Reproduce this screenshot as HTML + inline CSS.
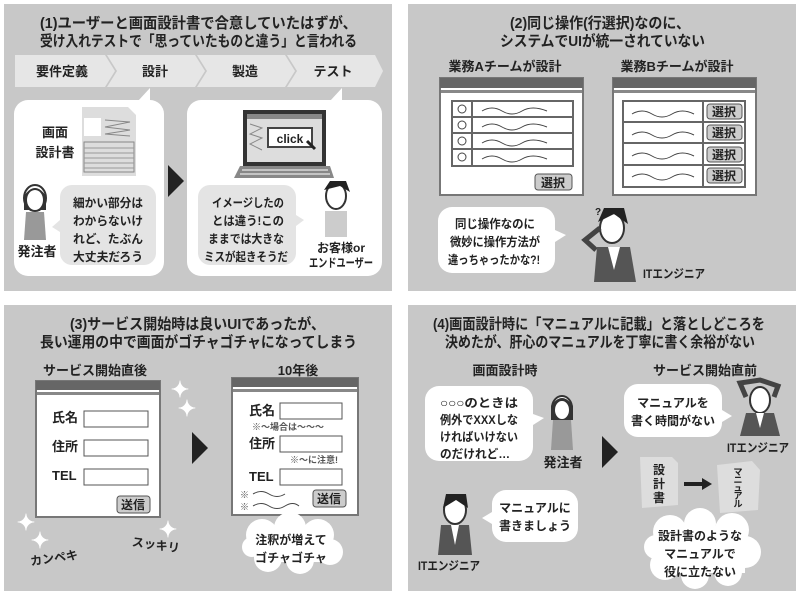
<!DOCTYPE html>
<html><head><meta charset="utf-8"><style>
html,body{margin:0;padding:0;background:#fff;}
svg{display:block;}
text{font-family:"Liberation Sans","Noto Sans CJK JP",sans-serif;font-weight:bold;fill:#222;}
</style></head><body>
<svg width="800" height="597" viewBox="0 0 800 597" xmlns="http://www.w3.org/2000/svg">
<defs>
<g id="tri"><polygon points="0,0 16,16 0,32" fill="#222"/></g>
</defs>
<rect x="4" y="4" width="388" height="287" fill="#c8c8c8"/>
<rect x="408" y="4" width="388" height="287" fill="#c8c8c8"/>
<rect x="4" y="305" width="388" height="286" fill="#c8c8c8"/>
<rect x="408" y="305" width="388" height="286" fill="#c8c8c8"/>

<!-- ===== Q1 ===== -->
<text x="40" y="28" font-size="15" textLength="317" lengthAdjust="spacingAndGlyphs">(1)ユーザーと画面設計書で合意していたはずが、</text>
<text x="40" y="46" font-size="15" textLength="317" lengthAdjust="spacingAndGlyphs">受け入れテストで「思っていたものと違う」と言われる</text>
<polygon points="15,55 105,55 115,71 105,87 15,87" fill="#e6e6e6"/>
<polygon points="107,55 195,55 205,71 195,87 107,87 117,71" fill="#e6e6e6"/>
<polygon points="197,55 285,55 295,71 285,87 197,87 207,71" fill="#e6e6e6"/>
<polygon points="287,55 375,55 383,71 375,87 287,87 297,71" fill="#e6e6e6"/>
<text x="62" y="76" font-size="13" text-anchor="middle">要件定義</text>
<text x="155" y="76" font-size="13" text-anchor="middle">設計</text>
<text x="245" y="76" font-size="13" text-anchor="middle">製造</text>
<text x="333" y="76" font-size="13" text-anchor="middle">テスト</text>
<rect x="14" y="100" width="150" height="176" rx="14" fill="#fff"/>
<polygon points="138,101 150,88 150,101" fill="#fff"/>
<rect x="187" y="100" width="195" height="176" rx="14" fill="#fff"/>
<polygon points="330,101 342,88 342,101" fill="#fff"/>
<use href="#tri" x="168" y="165"/>
<polygon points="82,107 128,107 136,115 136,176 82,176" fill="#ddd"/>
<rect x="84" y="118" width="17" height="18" fill="#fff"/>
<rect x="84" y="142" width="50" height="30" fill="none" stroke="#888"/>
<path d="M105,120 L130,122 L105,127 L130,130 L105,134 L130,136" stroke="#888" fill="none"/>
<path d="M84,148H134M84,153H134M84,158H134M84,163H134M84,168H134" stroke="#999"/>
<text x="55" y="137" font-size="13" text-anchor="middle">画面</text>
<text x="55" y="157" font-size="13" text-anchor="middle">設計書</text>
<ellipse cx="35" cy="198" rx="11" ry="13" fill="#fff" stroke="#333" stroke-width="2"/>
<path d="M24,196 Q35,180 46,196 L46,210 L24,210Z" fill="#333"/>
<ellipse cx="35" cy="200" rx="8" ry="10" fill="#fff"/>
<path d="M26,212 L44,212 L46,240 L24,240Z" fill="#999"/>
<text x="37" y="256" font-size="13" text-anchor="middle">発注者</text>
<rect x="60" y="185" width="96" height="80" rx="12" fill="#e4e4e4"/>
<polygon points="60,220 52,227 60,232" fill="#e4e4e4"/>
<g font-size="12"><text x="73" y="207" textLength="70" lengthAdjust="spacingAndGlyphs">細かい部分は</text><text x="73" y="225" textLength="70" lengthAdjust="spacingAndGlyphs">わからないけ</text><text x="73" y="243" textLength="70" lengthAdjust="spacingAndGlyphs">れど、たぶん</text><text x="73" y="261" textLength="70" lengthAdjust="spacingAndGlyphs">大丈夫だろう</text></g>
<rect x="243" y="110" width="83" height="56" fill="#333"/>
<rect x="247" y="114" width="75" height="48" fill="#ddd"/>
<rect x="247" y="114" width="75" height="5" fill="#888"/>
<rect x="268" y="128" width="44" height="19" fill="#fff" stroke="#444" stroke-width="2"/>
<text x="290" y="143" font-size="12" text-anchor="middle">click</text>
<path d="M307,141 L315,149" stroke="#222" stroke-width="3"/>
<path d="M250,124 L262,128 L250,134 L262,138 L250,144 L262,150" stroke="#888" fill="none"/>
<polygon points="240,166 330,166 334,178 234,178" fill="#888"/>
<path d="M242,170H328M240,174H330" stroke="#fff"/>
<rect x="198" y="185" width="98" height="80" rx="12" fill="#e4e4e4"/>
<polygon points="296,215 304,220 296,226" fill="#e4e4e4"/>
<g font-size="12"><text x="212" y="207" textLength="72" lengthAdjust="spacingAndGlyphs">イメージしたの</text><text x="212" y="225" textLength="72" lengthAdjust="spacingAndGlyphs">とは違う!この</text><text x="208" y="243" textLength="76" lengthAdjust="spacingAndGlyphs">ままでは大きな</text><text x="204" y="261" textLength="84" lengthAdjust="spacingAndGlyphs">ミスが起きそうだ</text></g>
<ellipse cx="336" cy="196" rx="10" ry="13" fill="#fff" stroke="#333" stroke-width="2"/>
<path d="M324,190 L330,181 L346,181 L350,192 L340,186Z" fill="#222"/>
<rect x="325" y="211" width="22" height="26" fill="#ccc"/>
<text x="341" y="252" font-size="12" text-anchor="middle">お客様or</text>
<text x="341" y="267" font-size="12" text-anchor="middle" textLength="64" lengthAdjust="spacingAndGlyphs">エンドユーザー</text>

<!-- ===== Q2 ===== -->
<text x="510" y="28" font-size="15" textLength="180" lengthAdjust="spacingAndGlyphs">(2)同じ操作(行選択)なのに、</text>
<text x="500" y="46" font-size="15" textLength="205" lengthAdjust="spacingAndGlyphs">システムでUIが統一されていない</text>
<text x="505" y="71" font-size="13" text-anchor="middle">業務Aチームが設計</text>
<text x="677" y="71" font-size="13" text-anchor="middle">業務Bチームが設計</text>
<g>
<rect x="440" y="78" width="143" height="117" fill="#fff" stroke="#777" stroke-width="2"/>
<rect x="440" y="78" width="143" height="10" fill="#666"/>
<rect x="441" y="90" width="141" height="3" fill="#888"/>
<rect x="452" y="101" width="121" height="65" fill="#fff" stroke="#666" stroke-width="2"/>
<path d="M452,117H573M452,133H573M452,149H573M472,101V166" stroke="#666" stroke-width="2"/>
<circle cx="462" cy="109" r="4" fill="none" stroke="#444"/><circle cx="462" cy="125" r="4" fill="none" stroke="#444"/><circle cx="462" cy="141" r="4" fill="none" stroke="#444"/><circle cx="462" cy="157" r="4" fill="none" stroke="#444"/>
<path d="M482,111 q10,-6 20,0 t20,0 t25,0 M482,127 q10,-6 20,0 t20,0 t25,0 M482,143 q10,-6 20,0 t20,0 t25,0 M482,159 q10,-6 20,0 t20,0 t25,0" stroke="#444" fill="none"/>
<rect x="535" y="174" width="37" height="16" rx="3" fill="#ccc" stroke="#555"/>
<text x="553" y="187" font-size="12" text-anchor="middle">選択</text>
</g>
<g>
<rect x="613" y="78" width="143" height="117" fill="#fff" stroke="#777" stroke-width="2"/>
<rect x="613" y="78" width="143" height="10" fill="#666"/>
<rect x="614" y="90" width="141" height="3" fill="#888"/>
<rect x="623" y="101" width="122" height="86" fill="#fff" stroke="#666" stroke-width="2"/>
<path d="M623,122H745M623,143H745M623,165H745M703,101V187" stroke="#666" stroke-width="2"/>
<path d="M632,114 q10,-6 20,0 t20,0 t22,0 M632,135 q10,-6 20,0 t20,0 t22,0 M632,156 q10,-6 20,0 t20,0 t22,0 M632,177 q10,-6 20,0 t20,0 t22,0" stroke="#444" fill="none"/>
<g font-size="12" text-anchor="middle">
<rect x="707" y="104" width="35" height="15" rx="3" fill="#ccc" stroke="#555"/><text x="724" y="116">選択</text>
<rect x="707" y="125" width="35" height="15" rx="3" fill="#ccc" stroke="#555"/><text x="724" y="137">選択</text>
<rect x="707" y="147" width="35" height="15" rx="3" fill="#ccc" stroke="#555"/><text x="724" y="159">選択</text>
<rect x="707" y="168" width="35" height="15" rx="3" fill="#ccc" stroke="#555"/><text x="724" y="180">選択</text>
</g></g>
<rect x="438" y="207" width="117" height="66" rx="14" fill="#fff"/>
<polygon points="555,230 566,235 555,242" fill="#fff"/>
<g font-size="12"><text x="455" y="228" textLength="80" lengthAdjust="spacingAndGlyphs">同じ操作なのに</text><text x="450" y="246" textLength="90" lengthAdjust="spacingAndGlyphs">微妙に操作方法が</text><text x="448" y="264" textLength="92" lengthAdjust="spacingAndGlyphs">違っちゃったかな?!</text></g>
<ellipse cx="612" cy="228" rx="12" ry="15" fill="#fff" stroke="#333" stroke-width="2"/>
<path d="M598,222 L604,208 L624,208 L628,224 L614,214Z" fill="#222"/>
<path d="M600,228 L585,240 L596,250" stroke="#444" stroke-width="5" fill="none"/>
<path d="M597,247 L630,247 L636,282 L594,282Z" fill="#555"/>
<polygon points="608,247 620,247 614,270" fill="#fff"/>
<text x="595" y="215" font-size="10">?</text>
<text x="643" y="278" font-size="12" textLength="62" lengthAdjust="spacingAndGlyphs">ITエンジニア</text>

<!-- ===== Q3 ===== -->
<text x="70" y="329" font-size="15" textLength="255" lengthAdjust="spacingAndGlyphs">(3)サービス開始時は良いUIであったが、</text>
<text x="40" y="347" font-size="15" textLength="317" lengthAdjust="spacingAndGlyphs">長い運用の中で画面がゴチャゴチャになってしまう</text>
<text x="95" y="375" font-size="13" text-anchor="middle">サービス開始直後</text>
<text x="298" y="375" font-size="13" text-anchor="middle">10年後</text>
<rect x="36" y="381" width="124" height="136" fill="#fff" stroke="#777" stroke-width="2"/>
<rect x="36" y="381" width="124" height="9" fill="#666"/>
<rect x="37" y="392" width="122" height="3" fill="#888"/>
<g font-size="13"><text x="52" y="422">氏名</text><text x="52" y="451">住所</text><text x="52" y="480">TEL</text></g>
<rect x="84" y="411" width="64" height="16" fill="#fff" stroke="#555"/>
<rect x="84" y="440" width="64" height="16" fill="#fff" stroke="#555"/>
<rect x="84" y="469" width="64" height="16" fill="#fff" stroke="#555"/>
<rect x="117" y="496" width="33" height="17" rx="3" fill="#ccc" stroke="#555"/>
<text x="133" y="509" font-size="12" text-anchor="middle">送信</text>
<g font-size="22" text-anchor="middle"><text x="180" y="397" style="fill:#fff">✦</text><text x="187" y="416" style="fill:#fff">✦</text><text x="26" y="530" style="fill:#fff">✦</text><text x="40" y="548" style="fill:#fff">✦</text><text x="168" y="537" style="fill:#fff">✦</text></g>
<text x="132" y="548" font-size="12" transform="rotate(8 148 543)">スッキリ</text>
<text x="30" y="563" font-size="12" transform="rotate(-8 48 558)">カンペキ</text>
<use href="#tri" x="192" y="432"/>
<rect x="232" y="378" width="126" height="137" fill="#fff" stroke="#777" stroke-width="2"/>
<rect x="232" y="378" width="126" height="9" fill="#666"/>
<rect x="233" y="389" width="124" height="3" fill="#888"/>
<g font-size="13"><text x="249" y="415">氏名</text><text x="249" y="448">住所</text><text x="249" y="481">TEL</text></g>
<rect x="280" y="403" width="62" height="16" fill="#fff" stroke="#555"/>
<rect x="280" y="436" width="62" height="16" fill="#fff" stroke="#555"/>
<rect x="280" y="469" width="62" height="16" fill="#fff" stroke="#555"/>
<text x="252" y="430" font-size="9" style="fill:#555">※〜場合は〜〜〜</text>
<text x="290" y="463" font-size="9" style="fill:#555">※〜に注意!</text>
<text x="240" y="498" font-size="9" style="fill:#555">※</text><text x="240" y="510" font-size="9" style="fill:#555">※</text>
<path d="M253,494 q8,-5 16,0 t16,0 M253,506 q8,-5 16,0 t16,0 t14,0" stroke="#444" fill="none"/>
<rect x="313" y="490" width="33" height="17" rx="3" fill="#ccc" stroke="#555"/>
<text x="329" y="503" font-size="12" text-anchor="middle">送信</text>
<g fill="#fff"><circle cx="262" cy="535" r="16"/><circle cx="290" cy="528" r="16"/><circle cx="318" cy="535" r="16"/><circle cx="330" cy="552" r="13"/><circle cx="300" cy="560" r="14"/><circle cx="268" cy="558" r="14"/><circle cx="252" cy="547" r="10"/><rect x="255" y="530" width="75" height="32"/></g>
<text x="291" y="544" font-size="12" text-anchor="middle">注釈が増えて</text>
<text x="291" y="562" font-size="12" text-anchor="middle">ゴチャゴチャ</text>

<!-- ===== Q4 ===== -->
<text x="433" y="329" font-size="15" textLength="332" lengthAdjust="spacingAndGlyphs">(4)画面設計時に「マニュアルに記載」と落としどころを</text>
<text x="445" y="347" font-size="15" textLength="310" lengthAdjust="spacingAndGlyphs">決めたが、肝心のマニュアルを丁寧に書く余裕がない</text>
<text x="505" y="375" font-size="13" text-anchor="middle">画面設計時</text>
<text x="705" y="375" font-size="13" text-anchor="middle">サービス開始直前</text>
<rect x="425" y="386" width="108" height="75" rx="14" fill="#fff"/>
<polygon points="533,414 544,418 533,425" fill="#fff"/>
<g font-size="12"><text x="440" y="407" textLength="78" lengthAdjust="spacingAndGlyphs">○○○のときは</text><text x="440" y="424" textLength="78" lengthAdjust="spacingAndGlyphs">例外でXXXしな</text><text x="440" y="441" textLength="78" lengthAdjust="spacingAndGlyphs">ければいけない</text><text x="440" y="458" textLength="70" lengthAdjust="spacingAndGlyphs">のだけれど…</text></g>
<ellipse cx="562" cy="408" rx="10" ry="12" fill="#fff" stroke="#333" stroke-width="2"/>
<path d="M551,406 Q562,390 573,406 L573,420 L551,420Z" fill="#333"/>
<ellipse cx="562" cy="410" rx="7" ry="9" fill="#fff"/>
<path d="M553,420 L571,420 L573,450 L551,450Z" fill="#999"/>
<text x="563" y="467" font-size="13" text-anchor="middle">発注者</text>
<use href="#tri" x="602" y="436"/>
<rect x="624" y="384" width="98" height="53" rx="14" fill="#fff"/>
<polygon points="722,410 732,416 722,422" fill="#fff"/>
<text x="673" y="407" font-size="12" text-anchor="middle">マニュアルを</text>
<text x="673" y="425" font-size="12" text-anchor="middle">書く時間がない</text>
<ellipse cx="760" cy="400" rx="10" ry="13" fill="#fff" stroke="#333" stroke-width="2"/>
<path d="M746,397 L740,383 L760,380 L778,386 L774,397" stroke="#444" stroke-width="5" fill="none"/>
<path d="M746,413 L774,413 L780,436 L740,436Z" fill="#555"/>
<polygon points="756,413 764,413 760,428" fill="#fff"/>
<text x="727" y="452" font-size="12" textLength="62" lengthAdjust="spacingAndGlyphs">ITエンジニア</text>
<polygon points="640,457 672,457 678,463 678,505 642,508" fill="#ddd"/>
<text x="659" y="474" font-size="12" text-anchor="middle">設</text><text x="659" y="488" font-size="12" text-anchor="middle">計</text><text x="659" y="502" font-size="12" text-anchor="middle">書</text>
<path d="M684,484 L704,484" stroke="#222" stroke-width="4"/><polygon points="702,478 712,484 702,490" fill="#222"/>
<polygon points="717,465 752,461 760,470 758,510 720,513" fill="#ddd"/>
<g font-size="9" text-anchor="middle"><text x="738" y="475">マ</text><text x="738" y="483">ニ</text><text x="738" y="491">ュ</text><text x="738" y="499">ア</text><text x="738" y="507">ル</text></g>
<g fill="#fff"><circle cx="670" cy="532" r="17"/><circle cx="700" cy="524" r="16"/><circle cx="732" cy="530" r="17"/><circle cx="745" cy="552" r="16"/><circle cx="728" cy="572" r="14"/><circle cx="695" cy="575" r="14"/><circle cx="665" cy="565" r="15"/><circle cx="656" cy="547" r="12"/><rect x="660" y="527" width="85" height="46"/></g>
<g font-size="12" text-anchor="middle"><text x="700" y="540">設計書のような</text><text x="700" y="558">マニュアルで</text><text x="700" y="576">役に立たない</text></g>
<ellipse cx="455" cy="510" rx="11" ry="14" fill="#fff" stroke="#333" stroke-width="2"/>
<path d="M443,508 L446,494 L466,494 L468,508 L456,500Z" fill="#222"/>
<path d="M441,525 L469,525 L472,555 L438,555Z" fill="#555"/>
<polygon points="451,525 459,525 455,545" fill="#fff"/>
<text x="418" y="570" font-size="12" textLength="62" lengthAdjust="spacingAndGlyphs">ITエンジニア</text>
<rect x="492" y="490" width="86" height="52" rx="14" fill="#fff"/>
<polygon points="492,512 482,518 492,524" fill="#fff"/>
<text x="535" y="512" font-size="12" text-anchor="middle">マニュアルに</text>
<text x="535" y="530" font-size="12" text-anchor="middle">書きましょう</text>
</svg>
</body></html>
